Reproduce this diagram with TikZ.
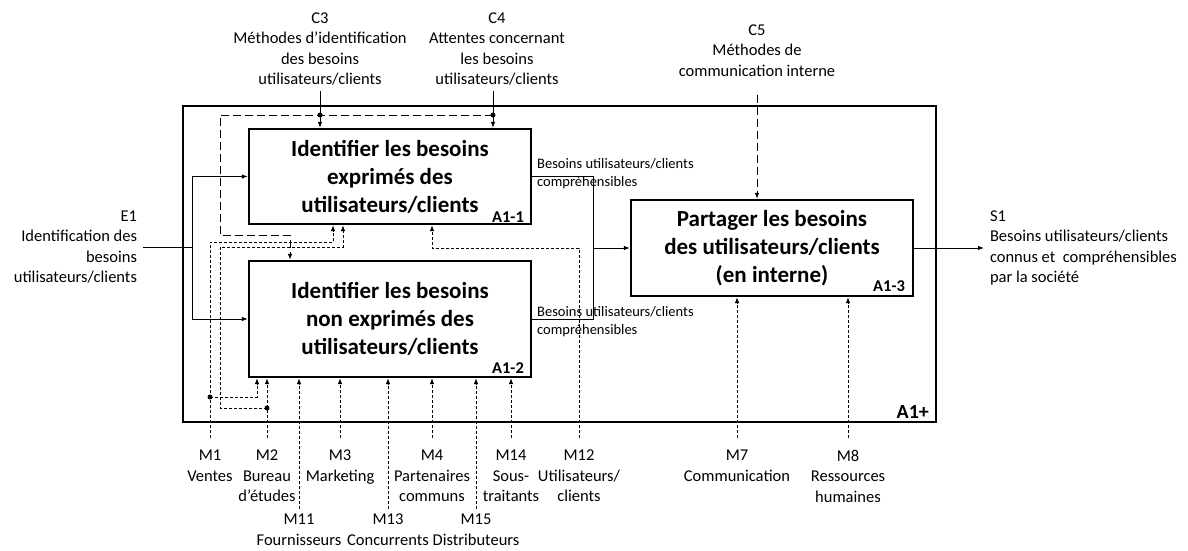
\documentclass[tikz,border=0pt]{standalone}
\usepackage{fontspec}
\setmainfont{Carlito}
\usetikzlibrary{arrows.meta}

\newcommand{\boxfont}{\fontsize{23}{28}\selectfont\bfseries}
\newcommand{\lblfont}{\fontsize{16.5}{20.5}\selectfont}
\newcommand{\flowfont}{\fontsize{14.5}{18}\selectfont}
\newcommand{\tagfont}{\fontsize{16.5}{18}\selectfont\bfseries}

\begin{document}
\begin{tikzpicture}[x=1pt, y=-1pt,
    proc/.style={draw, line width=2.2pt, minimum width=282pt, align=center, font=\boxfont, inner sep=0pt},
    tag/.style={font=\tagfont, inner sep=0pt, anchor=base east},
    lbl/.style={font=\lblfont, align=center, inner sep=0pt},
    clbl/.style={lbl, anchor=north, outer ysep=#1}, clbl/.default=6pt,
    mlbl/.style={lbl, anchor=north, outer ysep=#1}, mlbl/.default=12pt,
    flow/.style={line width=1pt},
    arr/.style={-{Latex[length=6pt,width=4.5pt]}},
    ctrl/.style={flow, dash pattern=on 8pt off 4pt},
    mech/.style={flow, dash pattern=on 3pt off 2pt}]
    \useasboundingbox (0,0) rectangle (1188,550);

    % Frame A1+
    \node[draw, line width=2.2pt, minimum width=753pt, minimum height=316pt, inner sep=0pt] (a1p) at (559.5,264) {};
    \node[tag, font=\fontsize{20}{22}\selectfont\bfseries] (t1p) at ([shift={(-8,-5)}]a1p.south east) {A1+};

    % Activities
    \node[proc, minimum height=95pt] (a11) at (390,176.5) {Identifier les besoins\\exprimés des\\utilisateurs/clients};
    \node[proc, minimum height=116pt] (a12) at (390,319) {Identifier les besoins\\non exprimés des\\utilisateurs/clients};
    \node[proc, minimum height=96pt] (a13) at (772,248) {Partager les besoins\\des utilisateurs/clients\\(en interne)};
    \node[tag] (t11) at ([shift={(-8,-2.5)}]a11.south east) {A1-1};
    \node[tag] (t12) at ([shift={(-8,-4.5)}]a12.south east) {A1-2};
    \node[tag] (t13) at ([shift={(-9,-5.5)}]a13.south east) {A1-3};

    % Inputs, outputs, controls
    \node[lbl, align=right, anchor=east, outer xsep=6pt] (e1) at (143,247) {E1\\Identification des\\besoins\\utilisateurs/clients};
    \node[lbl, align=left, anchor=west, outer xsep=6pt] (s1) at (984,248) {S1\\Besoins utilisateurs/clients\\connus et\ \ compréhensibles\\par la société};
    \node[clbl] (c3) at (320,6.5) {C3\\Méthodes d’identification\\des besoins\\utilisateurs/clients};
    \node[clbl] (c4) at (497,6.5) {C4\\Attentes concernant\\les besoins\\utilisateurs/clients};
    \node[clbl=18pt] (c5) at (757,6.7) {C5\\Méthodes de\\communication interne};
    \node[lbl, font=\flowfont, align=left, anchor=north west] (o1) at (537,158) {Besoins utilisateurs/clients\\compréhensibles};
    \node[lbl, font=\flowfont, align=left, anchor=north west] (o2) at (537,306) {Besoins utilisateurs/clients\\compréhensibles};

    % Mechanisms
    \foreach \n/\x/\txt in {1/210/{M1\\Ventes}, 2/267/{M2\\Bureau\\d’études}, 3/340/{M3\\Marketing},
        4/432/{M4\\Partenaires\\communs}, 14/511/{M14\\Sous-\\traitants}, 12/579/{M12\\Utilisateurs/\\clients},
        7/737/{M7\\Communication}, 8/848/{M8\\Ressources\\humaines}}
        \node[mlbl] (m\n) at (\x,438) {\txt};
    \foreach \n/\x/\txt in {11/299/{M11\\Fournisseurs}, 13/388/{M13\\Concurrents}, 15/476/{M15\\Distributeurs}}
        \node[mlbl=5pt] (m\n) at (\x,509) {\txt};

    % E1 to both activities
    \coordinate (e1split) at (192,247);
    \draw[flow] (e1.east) -- (e1split);
    \draw[flow, arr] (e1split) |- (a11.west);
    \draw[flow, arr] (e1split) |- (a12.west);

    % C3, C4 and their feedback to A1-2
    \coordinate (jc3) at (320,115);
    \coordinate (jc4) at (493,115);
    \coordinate (cfb) at (290,235);
    \draw[flow] (c3.south) -- (jc3);
    \draw[flow] (jc4 |- c4.south) -- (jc4);
    \draw[ctrl, arr] (jc3) -- (jc3 |- a11.north);
    \draw[ctrl, arr] (jc4) -- (jc4 |- a11.north);
    \draw[ctrl, arr] (jc4) -- (220,115) |- (cfb) -- (cfb |- a12.north);
    \fill (jc3) circle (2.5pt);
    \fill (jc4) circle (2.5pt);

    % C5
    \draw[ctrl, arr] (c5.south) -- (c5.south |- a13.north);

    % Outputs
    \coordinate (jout) at (593,248);
    \draw[flow] (a11.east) -| (jout);
    \draw[flow] (a12.east) -| (jout);
    \draw[flow, arr] (jout) -- (a13.west);
    \draw[flow, arr] (a13.east) -- (s1.west);

    % M1 and M2 to both activities
    \coordinate (jm1) at (210,397);
    \coordinate (jm2) at (267,408);
    \coordinate (bm1) at (333,242);
    \draw[mech, arr] (m1.north) |- (bm1) -- (bm1 |- a11.south);
    \draw[mech, arr] (jm1) -| (257,0 |- a12.south);
    \draw[mech, arr] (jm2) -| (220,247) -- (343,247) -- (343,0 |- a11.south);
    \fill (jm1) circle (2.5pt);
    \fill (jm2) circle (2.5pt);

    % M12 to A1-1
    \draw[mech, arr] (m12.north) |- (432,248) -- (432,0 |- a11.south);

    % Other mechanisms
    \foreach \n in {2,11,3,13,4,15,14}
        \draw[mech, arr] (m\n.north) -- (m\n.north |- a12.south);
    \foreach \n in {7,8}
        \draw[mech, arr] (m\n.north) -- (m\n.north |- a13.south);
\end{tikzpicture}
\end{document}
